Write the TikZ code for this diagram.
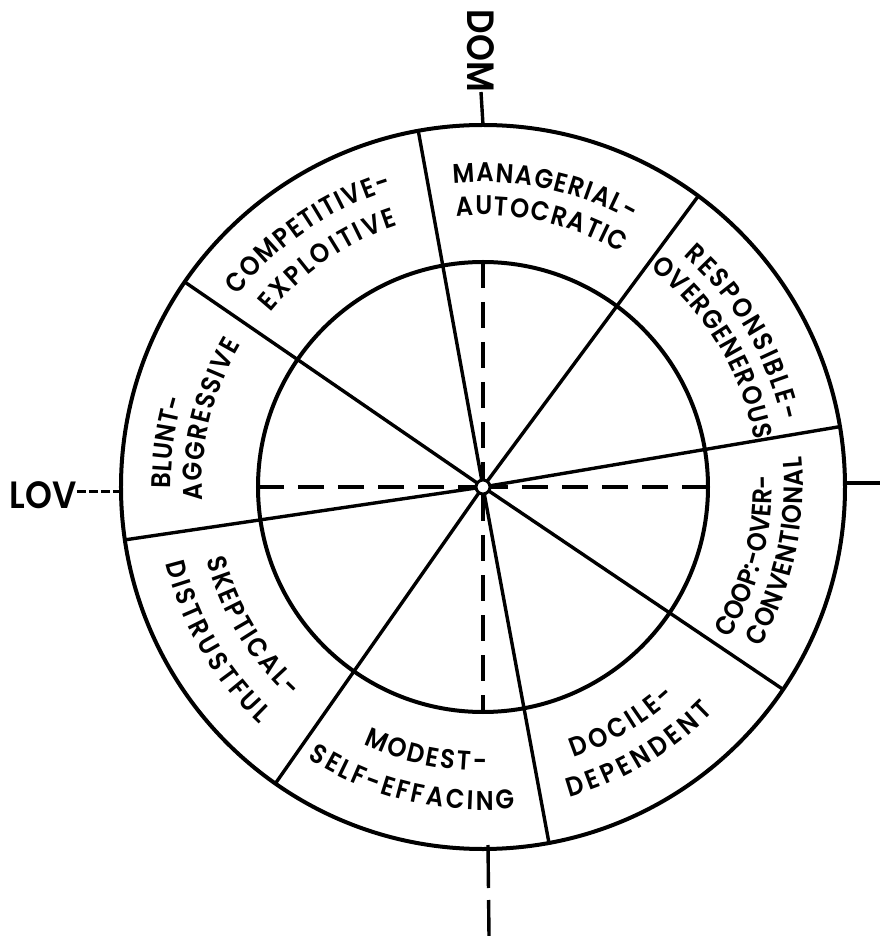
\documentclass[tikz,border=0pt]{standalone}
\usepackage{fontspec}
\setmainfont{TeX Gyre Heros}
\newfontfamily\lblfam{Poppins}[UprightFont={* SemiBold},FakeStretch=0.9]
\usetikzlibrary{decorations.text}
\newcommand\lblfont{\lblfam\fontsize{27}{31}\selectfont}
\newcommand\axfont{\lblfam\fontsize{38}{42}\selectfont}
\newcommand\arclabel[4]{%
  \path[decorate,decoration={text along path,text={|\lblfont|#4},text align=fit to path}]
    (#2:#1pt) arc[start angle=#2,end angle=#3,radius=#1pt];}
\begin{document}
\begin{tikzpicture}[x=1pt,y=1pt,
  ring/.style={line width=4pt},
  spoke/.style={line width=3.4pt},
  axisdash/.style={line width=3.6pt,dash pattern=on 26pt off 14pt},
  axlabel/.style={inner sep=0pt,font=\axfont}]
\useasboundingbox (-483,-449) rectangle (397,487);
% circles
\draw[ring] (0,0) circle[radius=362pt];
\draw[ring] (0,0) circle[radius=225pt];
% spokes
\foreach \a in {100.3,53.5,9.6,-34,-79.5,-125,188.4,145.5}
  \draw[spoke] (\a:7pt) -- (\a:362pt);
% dashed axes inside inner circle
\draw[axisdash] (0,225) -- (0,8);
\draw[axisdash] (0,-8) -- (0,-225);
\draw[axisdash] (-225,0) -- (-8,0);
\draw[axisdash] (225,0) -- (8,0);
% centre
\draw[line width=3pt,fill=white] (0,0) circle[radius=7pt];
% outer axis marks
\node[axlabel,rotate=-90,anchor=east] (dom) at (-2,395) {DOM};
\draw[spoke] (0,362) -- (dom.east);
\node[axlabel,anchor=east] (lov) at (-406,-8) {LOV};
\coordinate (lovend) at (-364,-5);
\draw[line width=3pt,dash pattern=on 9pt off 3pt] ([yshift=3pt]lov.east) -- (lovend);
\coordinate (rin) at (361,4);
\coordinate (rout) at (397,4);
\draw[spoke] (rin) -- (rout);
\coordinate (bin) at (5,-358);
\coordinate (bout) at (6,-449);
\draw[spoke,dash pattern=on 43pt off 12pt on 60pt] (bin) -- (bout);
% labels (clockwise: tops outward)
\arclabel{305}{95.6}{60.8}{MANAGERIAL-}
\arclabel{272}{95.6}{59.5}{AUTOCRATIC}
\arclabel{311}{142}{107}{COMPETITIVE-}
\arclabel{275}{140.7}{108}{EXPLOITIVE}
\arclabel{306}{49}{12.5}{RESPONSIBLE-}
\arclabel{275}{52.5}{9.8}{OVERGENEROUS}
\arclabel{312}{180.2}{163.5}{BLUNT-}
\arclabel{281}{182.7}{149.5}{AGGRESSIVE}
% labels (counter-clockwise: tops inward)
\arclabel{289}{-31.6}{2}{COOP:-OVER-}
\arclabel{320}{-30}{5.4}{CONVENTIONAL}
\arclabel{285}{-71.4}{-47.5}{DOCILE-}
\arclabel{322}{-74.4}{-44.3}{DEPENDENT}
\arclabel{284}{-114.9}{-89.2}{MODEST-}
\arclabel{323}{-122.8}{-84.3}{SELF-EFFACING}
\arclabel{286}{194.7}{227.5}{SKEPTICAL-}
\arclabel{326}{193.5}{226.7}{DISTRUSTFUL}
\end{tikzpicture}
\end{document}
